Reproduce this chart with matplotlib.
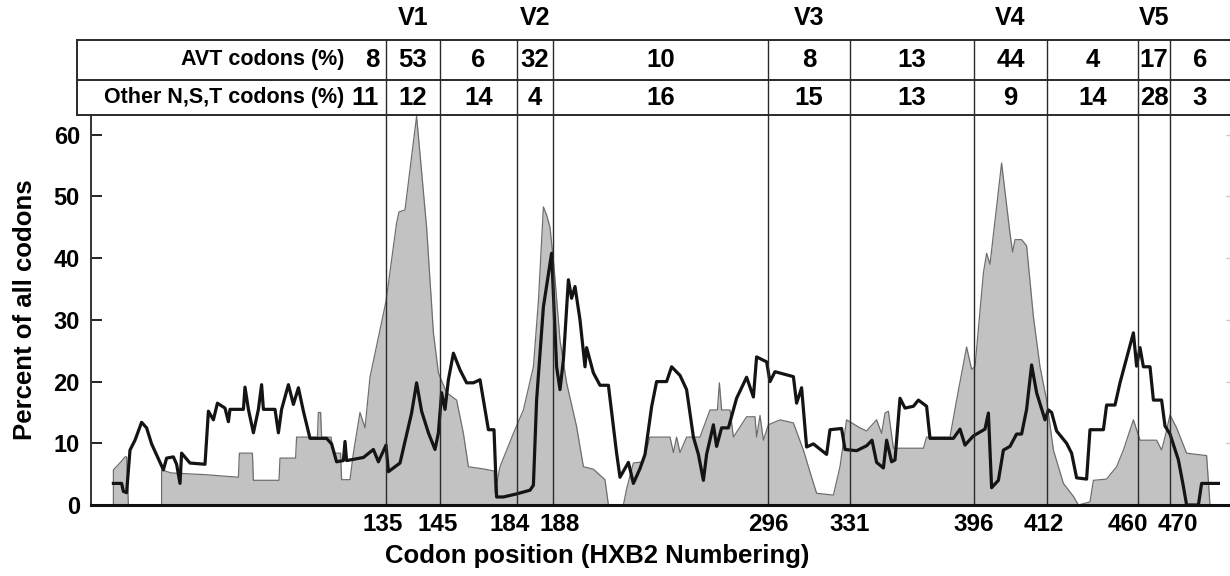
import matplotlib
matplotlib.use('Agg')
import matplotlib.pyplot as plt

plt.rcParams['font.family'] = ['Liberation Sans', 'DejaVu Sans']
plt.rcParams['font.weight'] = 'bold'
plt.rcParams['axes.labelweight'] = 'bold'

# region boundaries (alignment column) and their HXB2 labels
bound_pos = [147.5, 174.5, 213, 231, 338.5, 379.5, 441.5, 478, 523.5, 539.5]
bound_lab = ['135', '145', '184', '188', '296', '331', '396', '412', '460', '470']

loop_names = ['V1', 'V2', 'V3', 'V4', 'V5']
loop_idx = [0, 2, 4, 6, 8]  # loop = segment starting at bound_pos[i]

avt_pct = ['8', '53', '6', '32', '10', '8', '13', '44', '4', '17', '6']
nst_pct = ['11', '12', '14', '4', '16', '15', '13', '9', '14', '28', '3']

# grey filled profile (AVT codons)
avt_x = [11.2, 11.2, 15, 17, 17.8, 18.7,
         35.3, 35.3, 40, 57.8, 73.7, 74.2, 80.7, 81.2, 94, 94.5, 102.3, 102.8,
         113.2, 113.7, 114.8, 115.3, 120, 121.2, 124.8, 125.3, 129.5, 131.2,
         134.5, 137, 139.5, 147.5, 152.8, 154, 157, 162.8, 167.8, 171.2, 173.7,
         177.8, 182.8, 186.2, 188.7, 197, 201.5, 202, 204.5, 211.2, 216.2,
         221.2, 223.7, 226.2, 227.8, 229.5, 231.5, 234.5, 237.8, 242.8, 246.2,
         251.2, 257, 258.7, 266.2, 267.8, 271.2, 276.2, 279.5, 289.5, 291.2,
         292.8, 294.5, 297.8, 304.5, 309.5, 313.2, 314.2, 315.3, 319.5, 321.2,
         327.8, 332, 332.8, 334.5, 336.2, 338.7, 344.5, 351.2, 356.2, 360.3,
         362.8, 371.2, 374.5, 377.8, 384.5, 387.8, 392.8, 395.3, 397, 398.7,
         401.2, 416.2, 417.8, 429.5, 432.8, 437.8, 440.3, 442, 446.2, 447.8,
         449.5, 455.3, 459.5, 460.8, 462, 465.3, 467.8, 471.2, 474.5, 477.8,
         481.2, 486.2, 491.2, 493.7, 499.5, 501.2, 507.8, 512.8, 516.2, 521.2,
         524.5, 532.8, 535.3, 537, 539.5, 542.8, 547.8, 557.8, 559.5]
avt_y = [0, 5.7, 7.0, 7.8, 7.8, 0,
         0, 5.7, 5.2, 4.9, 4.5, 8.4, 8.4, 4.0, 4.0, 7.6, 7.6, 11.0,
         11.0, 15.0, 15.0, 11.0, 11.0, 8.4, 8.4, 4.1, 4.1, 8.4,
         15.0, 12.5, 20.7, 33.0, 45.7, 47.5, 47.8, 63.0, 45.0, 27.9, 21.4,
         18.2, 17.0, 11.6, 6.2, 5.8, 5.5, 2.0, 6.2, 11.6, 15.4,
         22.4, 33.0, 48.3, 47.0, 45.0, 38.6, 26.7, 19.8, 12.7, 6.2,
         5.8, 4.1, 0, 0, 2.6, 6.8, 7.0, 11.0, 11.0, 8.5,
         11.0, 8.5, 11.0, 11.0, 15.4, 15.4, 19.8, 15.4, 15.4, 11.0,
         14.3, 14.3, 11.0, 14.5, 10.5, 13.0, 13.8, 13.3, 8.9, 4.5,
         1.9, 1.6, 6.2, 13.8, 12.5, 12.0, 13.8, 11.6, 14.9, 15.2,
         9.2, 9.2, 11.0, 11.0, 17.0, 25.6, 22.0, 22.4, 37.6, 40.8,
         39.0, 55.4, 44.0, 41.0, 43.0, 43.0, 42.0, 30.5, 22.4, 17.0,
         8.9, 3.5, 1.4, 0, 0.5, 4.0, 4.2, 6.2, 8.9, 13.8,
         10.5, 10.5, 8.9, 11.0, 14.6, 12.5, 8.4, 8.0, 0]

# black line profile (other N,S,T codons)
nst_x = [11.2, 15.3, 16.2, 17.8, 19.5, 22, 25.3, 27.8, 30.3, 36.2, 37.8, 41.2,
         42.8, 44.5, 45.3, 49.5, 57, 58.7, 61.2, 63.2, 67, 68.7, 69.5, 76.2,
         77, 78.7, 81.2, 83.7, 85.3, 86.2, 92, 93.7, 95.3, 98.7, 101.2, 103.7,
         106.2, 109.5, 117.8, 120.3, 122.8, 126.2, 127, 127.8, 136.2, 141.2,
         143.7, 147.5, 148.7, 154.5, 160.3, 162.8, 165.3, 168.7, 172, 173.7,
         175.3, 177, 178.7, 181.2, 184.5, 187.8, 191.2, 194.5, 196.2, 198.7,
         201.5, 202.8, 206.2, 212.8, 219.5, 221.2, 222.8, 226.2, 230.3, 232.8,
         234.5, 236.2, 238.7, 240.3, 242, 244.5, 247, 247.8, 251.2, 254.5,
         258.7, 262.8, 264.5, 268.7, 271.2, 274.5, 277, 280.3, 282.8, 287.8,
         290.3, 294.5, 297.8, 301.2, 303.7, 306.2, 307.8, 311.2, 312.8, 315.3,
         318.7, 322.8, 327.8, 331.2, 332.8, 337.8, 339.5, 342, 351.2, 352.8,
         355.3, 357.8, 361.2, 367.8, 369.5, 375.3, 377, 382.8, 387.8, 390.5,
         392.8, 396.2, 397.8, 400.3, 402, 404.5, 407, 411.2, 413.7, 417.8,
         419.5, 431.2, 434.5, 437, 441.2, 447, 448.7, 450.3, 453.7, 456.2,
         459.5, 462.8, 465.3, 467.8, 470.3, 472.8, 477, 478.7, 480.3, 482.8,
         487.8, 490.3, 492.8, 497.8, 499.5, 506.2, 507.8, 512, 514.5, 521.2,
         522.8, 524.5, 526.2, 529.5, 531.2, 535.3, 537, 539.5, 543.7, 546.2,
         547.8, 553.7, 555.3, 563.7]
nst_y = [3.5, 3.5, 2.2, 2.0, 8.9, 10.5, 13.4, 12.5, 9.9, 5.7, 7.6, 7.8,
         6.6, 3.5, 8.4, 6.8, 6.6, 15.2, 13.8, 16.5, 15.7, 13.5, 15.5, 15.5,
         19.1, 15.5, 11.7, 15.5, 19.5, 15.5, 15.5, 11.7, 15.5, 19.5, 16.3, 19.0,
         15.2, 10.8, 10.8, 9.9, 7.0, 7.2, 10.3, 7.2, 7.7, 9.0,
         7.0, 9.7, 5.4, 6.8, 14.9, 19.8, 15.2, 11.7, 9.0, 11.7,
         18.2, 15.5, 20.3, 24.6, 21.9, 19.8, 19.8, 20.3, 17.0, 12.2,
         12.2, 1.3, 1.3, 1.8, 2.4, 3.2, 17.0, 32.1, 40.8, 22.4,
         18.7, 23.5, 36.5, 33.5, 35.4, 30.0, 22.4, 25.5, 21.4, 19.4,
         19.4, 8.4, 4.5, 6.9, 3.5, 5.9, 8.2, 15.9, 20.0, 20.0,
         22.4, 21.0, 18.7, 11.0, 8.2, 4.0, 8.2, 13.0, 9.5, 12.5,
         12.5, 17.3, 20.7, 17.5, 24.0, 23.2, 20.0, 21.6, 20.8, 16.5,
         19.0, 9.4, 9.9, 8.2, 12.2, 12.4, 9.0, 8.8, 9.6, 10.5,
         6.9, 6.0, 10.5, 7.0, 7.3, 17.3, 15.7, 16.0, 17.0, 16.0,
         10.8, 10.8, 12.3, 9.7, 11.2, 12.3, 14.9, 2.8, 4.0, 8.9,
         9.5, 11.5, 11.5, 15.5, 22.7, 18.2, 13.8, 15.4, 15.0, 12.0,
         10.0, 8.4, 4.4, 4.2, 12.2, 12.2, 16.2, 16.2, 19.8, 27.9,
         22.5, 25.5, 22.4, 22.4, 17.0, 17.0, 12.8, 11.5, 7.3, 3.0,
         0, 0, 3.5, 3.5]

W, H = 1230, 576
fig = plt.figure(figsize=(W / 100, H / 100), dpi=100)

x_lo, x_hi = 0, 569.5

# main plot
ax = fig.add_axes([91 / W, (H - 505) / H, (W - 91) / W, 390 / H])
ax.fill_between(avt_x, avt_y, 0, color='#c2c2c2', lw=0)
ax.plot(avt_x, avt_y, color='#6e6e6e', lw=0.9)
ax.plot(nst_x, nst_y, color='#141414', lw=2.3)
for b in bound_pos:
    ax.axvline(b, color='#2a2a2a', lw=1.0)

ax.set_xlim(x_lo, x_hi)
ax.set_ylim(0, 63.2)
ax.set_yticks(range(0, 61, 10))
ax.tick_params(axis='y', direction='in', length=8, width=1.2, labelsize=17, pad=8)
ax.set_xticks([])
for s in ['top', 'right']:
    ax.spines[s].set_visible(False)
ax.spines['left'].set_linewidth(1.4)
ax.spines['left'].set_color('#333333')
ax.spines['bottom'].set_linewidth(2.2)
ax.spines['bottom'].set_color('#111111')

# faint ticks along the right edge
ax_r = ax.twinx()
ax_r.set_ylim(0, 63.2)
ax_r.set_yticks(range(10, 61, 10))
ax_r.tick_params(axis='y', direction='in', length=3, width=1, color='#c8c8c8', labelright=False)
for s in ax_r.spines.values():
    s.set_visible(False)

ax.set_ylabel('Percent of all codons', fontsize=18.5, fontweight='bold', labelpad=12)

# x labels at the region boundaries, nudged apart where crowded
nudge = [-3, -2, -7, 7, 0, 0, 0, -3, -10, 8]
for b, lab, dx in zip(bound_pos, bound_lab, nudge):
    ax.annotate(lab, xy=(b, 0), xycoords=('data', 'axes fraction'),
                xytext=(dx, -8), textcoords='offset pixels',
                ha='center', va='top', fontsize=17.5)
fig.text(597 / W, 1 - 556 / H, 'Codon position (HXB2 Numbering)',
         ha='center', va='center', fontsize=18.5)

# table above the plot
tab = fig.add_axes([77 / W, (H - 115) / H, (W - 77) / W, 75 / H])
tab.set_xlim(-7, x_hi)
tab.set_ylim(0, 75)
tab.axis('off')
lc = '#2a2a2a'
for yy in [0, 35, 75]:
    tab.plot([-7, x_hi], [yy, yy], color=lc, lw=1.4, clip_on=False)
tab.plot([-7, -7], [0, 75], color=lc, lw=1.4, clip_on=False)
for b in bound_pos:
    tab.plot([b, b], [0, 75], color=lc, lw=1.0)

tab.text(126.5, 55, 'AVT codons (%)', ha='right', va='center', fontsize=15.5)
tab.text(126.5, 17, 'Other N,S,T codons (%)', ha='right', va='center', fontsize=15.5)

edges = bound_pos + [x_hi]
tab.text(edges[0] - 3.5, 55, avt_pct[0], ha='right', va='center', fontsize=18.5)
tab.text(edges[0] - 3.5, 17, nst_pct[0], ha='right', va='center', fontsize=18.5)
for i in range(1, len(avt_pct)):
    cx = 0.5 * (edges[i - 1] + edges[i])
    tab.text(cx, 55, avt_pct[i], ha='center', va='center', fontsize=18.5)
    tab.text(cx, 17, nst_pct[i], ha='center', va='center', fontsize=18.5)

for name, i in zip(loop_names, loop_idx):
    cx = 0.5 * (bound_pos[i] + bound_pos[i + 1])
    tab.text(cx, 97, name, ha='center', va='center', fontsize=18, clip_on=False)

fig.savefig('out.png', dpi=100)
